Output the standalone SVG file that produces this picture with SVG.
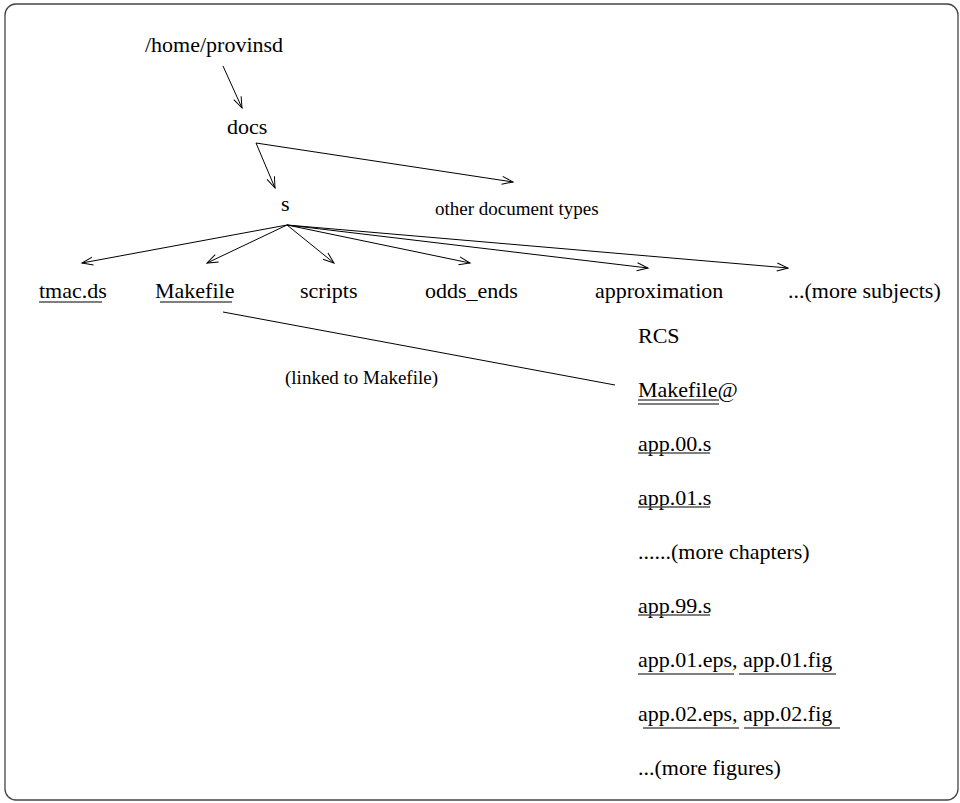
<svg xmlns="http://www.w3.org/2000/svg" width="960" height="803" viewBox="0 0 960 803" font-family="'Liberation Serif', 'Times New Roman', Tinos, 'DejaVu Serif', serif">
<style>
text{font-family:'Liberation Serif','Times New Roman',Tinos,'DejaVu Serif',serif;font-size:22px;fill:#000}
.sm{font-size:19px}
.c{stroke:#000;stroke-width:1;fill:none}
.ul{stroke:#000;stroke-width:1.2}
.ug{stroke:#555;stroke-width:1.6}
</style>
<defs>
<marker id="ah" markerUnits="userSpaceOnUse" markerWidth="14" markerHeight="12" refX="0" refY="0" viewBox="-13 -6 14 12" orient="auto" overflow="visible">
<path d="M-11,-4 L0,0 L-11,4" fill="none" stroke="#000" stroke-width="1"/>
</marker>
</defs>
<rect x="5" y="4" width="953" height="796" rx="11" ry="11" fill="#fff" stroke="#444" stroke-width="1.3"/>
<g id="connectors">
<line class="c" x1="223" y1="66" x2="242" y2="108" marker-end="url(#ah)"/>
<line class="c" x1="256" y1="143" x2="275" y2="188" marker-end="url(#ah)"/>
<line class="c" x1="256" y1="143" x2="513" y2="182" marker-end="url(#ah)"/>
<line class="c" x1="287" y1="225" x2="82" y2="263" marker-end="url(#ah)"/>
<line class="c" x1="287" y1="225" x2="207" y2="263" marker-end="url(#ah)"/>
<line class="c" x1="287" y1="225" x2="334" y2="263" marker-end="url(#ah)"/>
<line class="c" x1="287" y1="225" x2="470" y2="263" marker-end="url(#ah)"/>
<line class="c" x1="287" y1="225" x2="648" y2="268" marker-end="url(#ah)"/>
<line class="c" x1="287" y1="225" x2="788" y2="268" marker-end="url(#ah)"/>
<line class="c" x1="223" y1="312" x2="615" y2="385"/>
</g>
<g id="home"><text x="145" y="52">/home/provinsd</text></g>
<g id="docs"><text x="227" y="134">docs</text></g>
<g id="s"><text x="281" y="211">s</text></g>
<g id="other"><text class="sm" x="435" y="215">other document types</text></g>
<g id="tmac"><text x="39" y="298">tmac.ds</text><line class="ul" x1="39" y1="302" x2="102" y2="302"/></g>
<g id="makefile"><text x="155" y="298">Makefile</text><line class="ul" x1="160" y1="302" x2="232" y2="302"/></g>
<g id="scripts"><text x="300" y="298">scripts</text></g>
<g id="odds"><text x="425" y="298">odds_ends</text></g>
<g id="approx"><text x="595" y="298">approximation</text></g>
<g id="more"><text x="788" y="298">...(more subjects)</text></g>
<g id="linked"><text class="sm" x="285" y="384">(linked to Makefile)</text></g>
<g id="rcs"><text x="638" y="343">RCS</text></g>
<g id="mklink"><text x="638" y="397">Makefile@</text><line class="ug" x1="638" y1="400" x2="719" y2="400"/><line class="ug" x1="638" y1="404" x2="719" y2="404"/></g>
<g id="app00"><text x="638" y="451">app.00.s</text><line class="ug" x1="638" y1="453" x2="710" y2="453"/></g>
<g id="app01"><text x="638" y="505">app.01.s</text><line class="ug" x1="638" y1="507" x2="710" y2="507"/></g>
<g id="chapters"><text x="638" y="559">......(more chapters)</text></g>
<g id="app99"><text x="638" y="613">app.99.s</text><line class="ug" x1="638" y1="615" x2="710" y2="615"/></g>
<g id="eps01"><text x="638" y="667">app.01.eps, app.01.fig</text><line class="ug" x1="638" y1="674" x2="734" y2="674"/><line class="ug" x1="739" y1="674" x2="836" y2="674"/></g>
<g id="eps02"><text x="638" y="721">app.02.eps, app.02.fig</text><line class="ug" x1="643" y1="728" x2="739" y2="728"/><line class="ug" x1="744" y1="728" x2="840" y2="728"/></g>
<g id="figures"><text x="638" y="775">...(more figures)</text></g>
</svg>
